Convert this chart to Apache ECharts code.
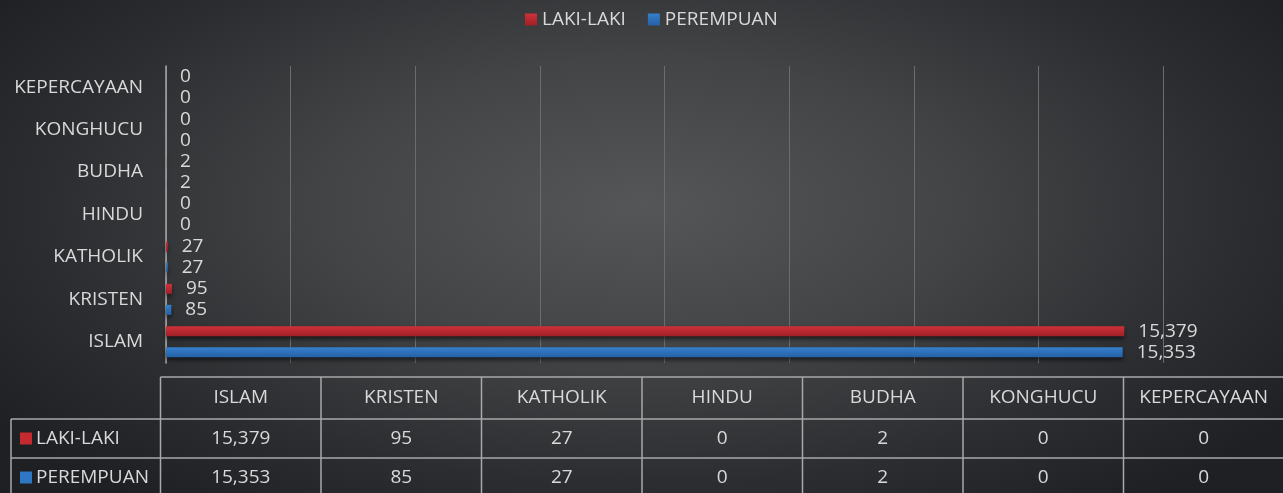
<!DOCTYPE html>
<html>
<head>
<meta charset="utf-8">
<title>Agama per jenis kelamin</title>
<script src="https://cdn.jsdelivr.net/npm/echarts@6/dist/echarts.min.js"></script>
<style>
  html, body { margin: 0; padding: 0; }
  body {
    width: 1283px; height: 493px; overflow: hidden;
    background: radial-gradient(ellipse 62% 75% at 50% 42%, #555658 0%, #434446 40%, #2c2d30 75%, #1f2023 100%);
  }
  #chart { width: 1283px; height: 493px; }
</style>
</head>
<body>
<div id="chart"></div>
<script>
// data, bottom to top on the chart (same order as the table columns)
var categories = ['ISLAM', 'KRISTEN', 'KATHOLIK', 'HINDU', 'BUDHA', 'KONGHUCU', 'KEPERCAYAAN'];
var lakiLaki = [15379, 95, 27, 0, 2, 0, 0];
var perempuan = [15353, 85, 27, 0, 2, 0, 0];
var seriesNames = ['LAKI-LAKI', 'PEREMPUAN'];
var seriesColors = ['#c62a31', '#2f77c4'];

var chart = echarts.init(document.getElementById('chart'));
var FONT = '"Open Sans", sans-serif';
var TXT = '#d9d9d9';
var FS = 19;

function fmt(v) { return v.toLocaleString('en-US'); }

function barColor(c, dark) {
    return new echarts.graphic.LinearGradient(0, 0, 0, 1, [
        { offset: 0, color: c },
        { offset: 1, color: dark }
    ]);
}

// data table under the plot
var tableLeft = 160.5, colW = 160.5, headTop = 377, headH = 42, rowH = 39, labelLeft = 11;
var lineColor = '#a8a9ab';
var graphics = [];
function hline(x1, x2, y) {
    graphics.push({ type: 'line', silent: true, shape: { x1: x1, y1: y, x2: x2, y2: y },
        style: { stroke: lineColor, lineWidth: 1.5 } });
}
function vline(x, y1, y2) {
    graphics.push({ type: 'line', silent: true, shape: { x1: x, y1: y1, x2: x, y2: y2 },
        style: { stroke: lineColor, lineWidth: 1.5 } });
}
function cellText(x, y, t) {
    graphics.push({ type: 'text', silent: true, x: x, y: y,
        style: { text: t, fill: TXT, font: FS + 'px ' + FONT, align: 'center', verticalAlign: 'middle' } });
}
var tableRight = 1290, tableBottom = headTop + headH + rowH * 2;
hline(tableLeft, tableRight, headTop);
hline(labelLeft, tableRight, headTop + headH);
hline(labelLeft, tableRight, headTop + headH + rowH);
vline(labelLeft, headTop + headH, tableBottom);
for (var c = 0; c <= categories.length; c++) {
    vline(tableLeft + c * colW, headTop, tableBottom);
}
var rows = [lakiLaki, perempuan];
categories.forEach(function (name, i) {
    var cx = tableLeft + colW * (i + 0.5);
    cellText(cx, headTop + headH / 2, name);
    rows.forEach(function (vals, r) {
        cellText(cx, headTop + headH + rowH * (r + 0.5), fmt(vals[i]));
    });
});
seriesNames.forEach(function (name, r) {
    var cy = headTop + headH + rowH * (r + 0.5);
    graphics.push({ type: 'rect', silent: true, shape: { x: 20, y: cy - 6, width: 12, height: 12 },
        style: { fill: seriesColors[r] } });
    graphics.push({ type: 'text', silent: true, x: 36, y: cy,
        style: { text: name, fill: TXT, font: FS + 'px ' + FONT, verticalAlign: 'middle' } });
});

var valueLabel = {
    show: true,
    position: 'right',
    distance: 14,
    color: TXT,
    fontFamily: FONT,
    fontSize: FS,
    formatter: function (p) { return fmt(p.value); }
};

var option = {
    backgroundColor: 'transparent',
    animation: false,
    legend: {
        data: seriesNames,
        left: 520,
        top: 5,
        itemWidth: 12,
        itemHeight: 12,
        itemGap: 22,
        icon: 'rect',
        textStyle: { color: TXT, fontFamily: FONT, fontSize: FS }
    },
    grid: { left: 166, right: 120, top: 66, bottom: 130, containLabel: false },
    xAxis: {
        type: 'value',
        min: 0,
        max: 16000,
        interval: 2000,
        axisLine: { show: false },
        axisTick: { show: false },
        axisLabel: { show: false },
        splitLine: { lineStyle: { color: '#6b6c6e', width: 1 } }
    },
    yAxis: {
        type: 'category',
        data: categories,
        axisLine: { lineStyle: { color: '#a6a7a9', width: 1.5 } },
        axisTick: { length: 7, lineStyle: { color: '#a6a7a9', width: 1.5 } },
        axisLabel: { color: TXT, fontFamily: FONT, fontSize: FS, margin: 23 }
    },
    series: [
        {
            name: seriesNames[0],
            type: 'bar',
            data: lakiLaki,
            barWidth: 10,
            barGap: '110%',
            itemStyle: { color: barColor('#cf3139', '#a01f26'), shadowColor: 'rgba(0,0,0,0.55)', shadowBlur: 4, shadowOffsetY: 3 },
            label: valueLabel
        },
        {
            name: seriesNames[1],
            type: 'bar',
            data: perempuan,
            barWidth: 10,
            barGap: '110%',
            itemStyle: { color: barColor('#3680cc', '#2461a6'), shadowColor: 'rgba(0,0,0,0.55)', shadowBlur: 4, shadowOffsetY: 3 },
            label: valueLabel
        }
    ],
    graphic: graphics
};
chart.setOption(option);
</script>
</body>
</html>
